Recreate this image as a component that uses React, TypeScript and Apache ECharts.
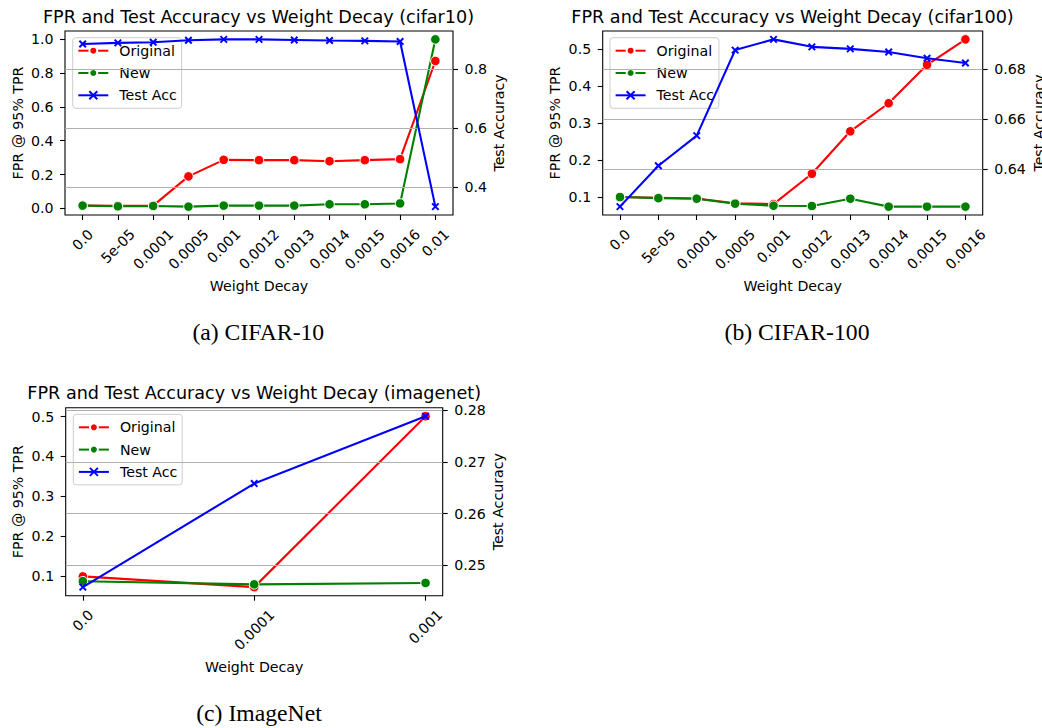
import React, { useEffect, useRef } from 'react';
import * as echarts from 'echarts';

// ---------- data ----------
const catsA = ['0.0', '5e-05', '0.0001', '0.0005', '0.001', '0.0012', '0.0013', '0.0014', '0.0015', '0.0016', '0.01'];
const origA = [0.016, 0.015, 0.016, 0.189, 0.287, 0.285, 0.285, 0.279, 0.285, 0.291, 0.872];
const newA = [0.016, 0.012, 0.014, 0.010, 0.016, 0.016, 0.016, 0.024, 0.024, 0.029, 1.0];
const accA = [0.885, 0.889, 0.891, 0.898, 0.901, 0.901, 0.899, 0.897, 0.896, 0.894, 0.333];
const leftTicksA = [0, 0.2, 0.4, 0.6, 0.8, 1.0];
const rightTicksA = [0.4, 0.6, 0.8];

const catsB = ['0.0', '5e-05', '0.0001', '0.0005', '0.001', '0.0012', '0.0013', '0.0014', '0.0015', '0.0016'];
const origB = [0.100, 0.098, 0.096, 0.083, 0.081, 0.163, 0.278, 0.354, 0.458, 0.527];
const newB = [0.100, 0.097, 0.0955, 0.082, 0.0765, 0.0757, 0.0955, 0.074, 0.074, 0.074];
const accB = [0.6249, 0.6413, 0.6534, 0.6877, 0.6920, 0.6890, 0.6882, 0.6869, 0.6844, 0.6825];
const leftTicksB = [0.1, 0.2, 0.3, 0.4, 0.5];
const rightTicksB = [0.64, 0.66, 0.68];

const catsC = ['0.0', '0.0001', '0.001'];
const origC = [0.099, 0.072, 0.501];
const newC = [0.087, 0.079, 0.0825];
const accC = [0.2458, 0.2658, 0.2788];
const leftTicksC = [0.1, 0.2, 0.3, 0.4, 0.5];
const rightTicksC = [0.25, 0.26, 0.27, 0.28];

const seriesNames = ['Original', 'New', 'Test Acc'];
const titles = [
  'FPR and Test Accuracy vs Weight Decay (cifar10)',
  'FPR and Test Accuracy vs Weight Decay (cifar100)',
  'FPR and Test Accuracy vs Weight Decay (imagenet)',
];
const captions = ['(a) CIFAR-10', '(b) CIFAR-100', '(c) ImageNet'];
const xName = 'Weight Decay';
const leftName = 'FPR @ 95% TPR';
const rightName = 'Test Accuracy';

// ---------- styling / layout ----------
const FONT = '"DejaVu Sans", sans-serif';
const SERIF = '"Liberation Serif", "Times New Roman", serif';
const FS = 14.2;
const TITLE_FS = 17.6;
const RED = '#ff0000';
const GREEN = '#008000';
const BLUE = '#0000ff';

const panels = [
  {
    cats: catsA, orig: origA, nw: newA, acc: accA, lt: leftTicksA, rt: rightTicksA, ld: 1, rd: 1,
    grid: { left: 65, top: 31, width: 388, height: 184 },
    title: { x: 258.5, y: 17 }, caption: { x: 258.3, y: 331.7 },
    legend: { left: 72.7, top: 37.7 }, leftGap: 47.5, rightGap: 46, xGap: 70.5,
  },
  {
    cats: catsB, orig: origB, nw: newB, acc: accB, lt: leftTicksB, rt: rightTicksB, ld: 1, rd: 2,
    grid: { left: 602.7, top: 31, width: 380, height: 184 },
    title: { x: 792.5, y: 17 }, caption: { x: 797, y: 331.7 },
    legend: { left: 610, top: 37.7 }, leftGap: 47.7, rightGap: 55.8, xGap: 70.5,
  },
  {
    cats: catsC, orig: origC, nw: newC, acc: accC, lt: leftTicksC, rt: rightTicksC, ld: 1, rd: 2,
    grid: { left: 65.7, top: 407.7, width: 377, height: 188 },
    title: { x: 254.2, y: 392.5 }, caption: { x: 259, y: 712.5 },
    legend: { left: 73.3, top: 414.3 }, leftGap: 48.2, rightGap: 55.6, xGap: 71.5,
  },
];

function limits(arrs: number[][]): [number, number] {
  const all = arrs.flat();
  const mn = Math.min(...all);
  const mx = Math.max(...all);
  const m = 0.05 * (mx - mn);
  return [mn - m, mx + m];
}

const X_SYMBOL = 'path://M0,0L10,10M10,0L0,10';

export default function App() {
  const ref = useRef<HTMLDivElement>(null);

  useEffect(() => {
    if (!ref.current) return;
    const chart = echarts.init(ref.current, undefined, { renderer: 'svg' });

    const ctx = document.createElement('canvas').getContext('2d')!;
    ctx.font = `${FS}px "DejaVu Sans"`;
    const measure = (s: string) => ctx.measureText(s).width;

    const axisText = { fontSize: FS, fontFamily: FONT, color: '#000' };
    const tickLine = { color: '#000', width: 1.1 };

    const grids: any[] = [];
    const xAxes: any[] = [];
    const yAxes: any[] = [];
    const series: any[] = [];
    const legends: any[] = [];
    const graphics: any[] = [];

    panels.forEach((p, k) => {
      const n = p.cats.length;
      const idx = p.cats.map((_, i) => i);
      const margin = 0.05 * (n - 1);
      grids.push({
        ...p.grid, show: true, borderColor: '#000', borderWidth: 1.1,
        backgroundColor: 'transparent', containLabel: false, outerBoundsMode: 'none',
      });
      const rich: any = {};
      p.cats.forEach((c, i) => {
        const P = 0.5 * (measure(c) + FS);
        rich['l' + i] = { ...axisText, padding: [P, P, 0, 0] };
      });
      xAxes.push({
        type: 'value', gridIndex: k, min: -margin, max: n - 1 + margin,
        name: xName, nameLocation: 'middle', nameGap: p.xGap, nameMoveOverlap: false,
        nameTextStyle: { ...axisText, verticalAlign: 'middle' },
        axisLine: { show: false, onZero: false },
        axisTick: { show: true, inside: false, length: 5, customValues: idx, lineStyle: tickLine },
        axisLabel: {
          show: true, customValues: idx, rotate: 45, margin: 11.7, align: 'center', verticalAlign: 'middle',
          ...axisText, rich,
          formatter: (v: number) => {
            const i = Math.round(v);
            return `{l${i}|${p.cats[i]}}`;
          },
        },
        splitLine: { show: false },
      });
      const [lmin, lmax] = limits([p.orig, p.nw]);
      const [rmin, rmax] = limits([p.acc]);
      yAxes.push({
        type: 'value', gridIndex: k, position: 'left', min: lmin, max: lmax,
        name: leftName, nameLocation: 'middle', nameGap: p.leftGap, nameRotate: 90, nameMoveOverlap: false,
        nameTextStyle: { ...axisText, verticalAlign: 'middle', align: 'center' },
        axisLine: { show: false, onZero: false },
        axisTick: { show: true, inside: false, length: 5, customValues: p.lt, lineStyle: tickLine },
        axisLabel: { show: true, customValues: p.lt, margin: 11.5, ...axisText, formatter: (v: number) => v.toFixed(p.ld) },
        splitLine: { show: false },
        z: 0,
      });
      yAxes.push({
        type: 'value', gridIndex: k, position: 'right', min: rmin, max: rmax,
        name: rightName, nameLocation: 'middle', nameGap: p.rightGap, nameRotate: 90, nameMoveOverlap: false,
        nameTextStyle: { ...axisText, verticalAlign: 'middle', align: 'center' },
        axisLine: { show: false, onZero: false },
        axisTick: { show: true, inside: false, length: 5, customValues: p.rt, lineStyle: tickLine },
        axisLabel: { show: true, customValues: p.rt, margin: 11.5, ...axisText, formatter: (v: number) => v.toFixed(p.rd) },
        splitLine: { show: true, lineStyle: { color: '#b0b0b0', width: 1.1 } },
        z: 3,
      });
      const common = { type: 'line', xAxisIndex: k, animation: false, emphasis: { disabled: true }, silent: true };
      series.push({
        ...common, name: seriesNames[0], yAxisIndex: 2 * k,
        data: p.orig.map((v, i) => [i, v]),
        symbol: 'circle', symbolSize: 9.5,
        itemStyle: { color: RED, borderColor: '#ffffff', borderWidth: 1 },
        lineStyle: { color: RED, width: 2.1 }, z: 2,
      });
      series.push({
        ...common, name: seriesNames[1], yAxisIndex: 2 * k,
        data: p.nw.map((v, i) => [i, v]),
        symbol: 'circle', symbolSize: 9.5,
        itemStyle: { color: GREEN, borderColor: '#ffffff', borderWidth: 1 },
        lineStyle: { color: GREEN, width: 2.1 }, z: 2,
      });
      series.push({
        ...common, name: seriesNames[2], yAxisIndex: 2 * k + 1,
        data: p.acc.map((v, i) => [i, v]),
        symbol: X_SYMBOL, symbolSize: 6.5,
        itemStyle: { color: BLUE, borderColor: BLUE, borderWidth: 2 },
        lineStyle: { color: BLUE, width: 2.1 }, z: 5,
      });
      legends.push({
        show: true, orient: 'vertical', left: p.legend.left, top: p.legend.top,
        padding: [5.4, 4.8, 5.4, 4.6], itemGap: 7.1, itemWidth: 30, itemHeight: 10,
        selectedMode: false, backgroundColor: 'rgba(255,255,255,0.8)',
        borderColor: '#cccccc', borderWidth: 1, borderRadius: 3, z: 1,
        data: seriesNames,
        textStyle: { ...axisText, lineHeight: 15.2, padding: [0, 0, 0, 6] },
      });
      graphics.push({
        type: 'text', x: p.title.x, y: p.title.y, silent: true,
        style: { text: titles[k], fontSize: TITLE_FS, fontFamily: FONT, fill: '#000', align: 'center', verticalAlign: 'middle' },
      });
      graphics.push({
        type: 'text', x: p.caption.x, y: p.caption.y, silent: true,
        style: { text: captions[k], fontSize: 23.7, fontFamily: SERIF, fill: '#000', align: 'center', verticalAlign: 'middle' },
      });
    });

    chart.setOption({
      animation: false,
      backgroundColor: '#ffffff',
      grid: grids,
      xAxis: xAxes,
      yAxis: yAxes,
      series,
      legend: legends,
      graphic: graphics,
      tooltip: { show: false },
    });

    return () => chart.dispose();
  }, []);

  return (
    <div
      ref={ref}
      style={{ position: 'absolute', left: 0, top: 0, width: 1042, height: 728, background: '#fff' }}
    />
  );
}
